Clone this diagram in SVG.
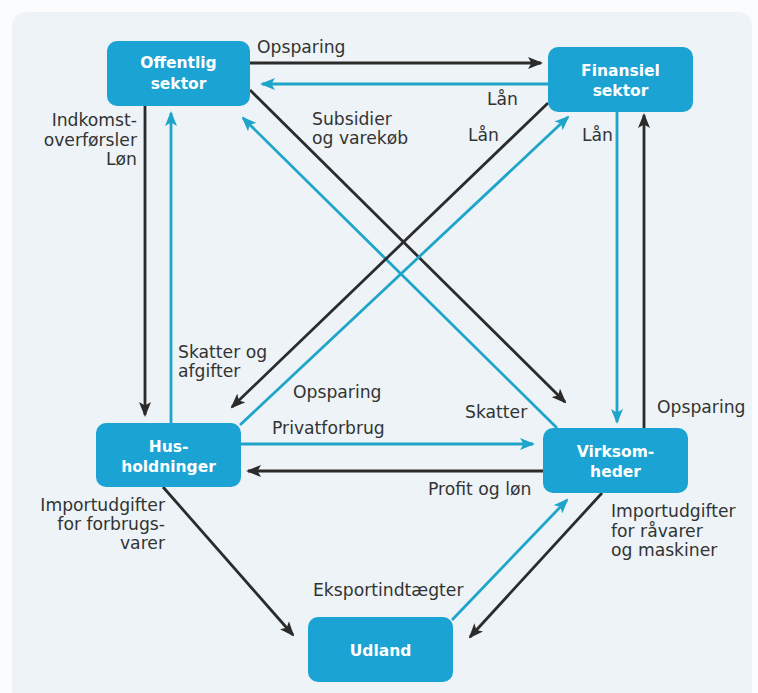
<svg xmlns="http://www.w3.org/2000/svg" width="758" height="693" viewBox="0 0 758 693">
  <style>
    .node rect { fill: #1ba3d4; }
    .node text { fill: #ffffff; font-family: "DejaVu Sans", "Liberation Sans", sans-serif; font-weight: bold; font-size: 15.5px; text-anchor: middle; }
    .lbl { fill: #333333; font-family: "DejaVu Sans", "Liberation Sans", sans-serif; font-size: 17.2px; }
    .end { text-anchor: end; }
    .dk { stroke: #2b2b2b; stroke-width: 2.8; fill: none; marker-end: url(#ad); }
    .cy { stroke: #1fa5c9; stroke-width: 2.8; fill: none; marker-end: url(#ac); }
  </style>
  <defs>
    <marker id="ad" markerUnits="userSpaceOnUse" markerWidth="15" markerHeight="12" refX="13" refY="6" orient="auto">
      <path d="M0,0 L15,6 L0,12 L3.5,6 z" fill="#2b2b2b"/>
    </marker>
    <marker id="ac" markerUnits="userSpaceOnUse" markerWidth="15" markerHeight="12" refX="13" refY="6" orient="auto">
      <path d="M0,0 L15,6 L0,12 L3.5,6 z" fill="#1fa5c9"/>
    </marker>
  </defs>
  <rect x="0" y="0" width="758" height="693" fill="#fbfcfd"/>
  <rect x="12" y="12" width="740" height="700" rx="14" fill="#edf3f7"/>

  <g id="connectors">
    <line class="dk" x1="250" y1="63" x2="541" y2="63"/>
    <line class="cy" x1="548" y1="84" x2="262" y2="84"/>
    <line class="dk" x1="145" y1="106" x2="145" y2="415"/>
    <line class="cy" x1="171" y1="423" x2="171" y2="113"/>
    <line class="dk" x1="250" y1="90" x2="565" y2="402"/>
    <line class="cy" x1="557" y1="428" x2="243" y2="118"/>
    <line class="dk" x1="548" y1="103" x2="232" y2="407"/>
    <line class="cy" x1="240" y1="425" x2="568" y2="117"/>
    <line class="cy" x1="617" y1="112" x2="617" y2="422"/>
    <line class="dk" x1="644" y1="428" x2="644" y2="115"/>
    <line class="cy" x1="241" y1="444" x2="533" y2="444"/>
    <line class="dk" x1="543" y1="471" x2="248" y2="471"/>
    <line class="dk" x1="163" y1="487" x2="293" y2="635"/>
    <line class="cy" x1="452" y1="620" x2="567" y2="500"/>
    <line class="dk" x1="602" y1="493" x2="470" y2="637"/>
  </g>

  <g id="labels">
    <text class="lbl" x="257" y="53">Opsparing</text>
    <text class="lbl" x="487" y="105">Lån</text>
    <text class="lbl" x="468" y="141">Lån</text>
    <text class="lbl" x="582" y="141">Lån</text>
    <text class="lbl" x="312" y="125">Subsidier</text>
    <text class="lbl" x="312" y="144">og varekøb</text>
    <text class="lbl end" x="137" y="126">Indkomst-</text>
    <text class="lbl end" x="137" y="146">overførsler</text>
    <text class="lbl end" x="137" y="165">Løn</text>
    <text class="lbl" x="178" y="358">Skatter og</text>
    <text class="lbl" x="178" y="377">afgifter</text>
    <text class="lbl" x="293" y="398">Opsparing</text>
    <text class="lbl" x="272" y="434">Privatforbrug</text>
    <text class="lbl" x="465" y="418">Skatter</text>
    <text class="lbl" x="657" y="413">Opsparing</text>
    <text class="lbl" x="428" y="495">Profit og løn</text>
    <text class="lbl end" x="165" y="511">Importudgifter</text>
    <text class="lbl end" x="165" y="530">for forbrugs-</text>
    <text class="lbl end" x="165" y="549">varer</text>
    <text class="lbl" x="313" y="596">Eksportindtægter</text>
    <text class="lbl" x="611" y="517">Importudgifter</text>
    <text class="lbl" x="611" y="537">for råvarer</text>
    <text class="lbl" x="611" y="556">og maskiner</text>
  </g>

  <g id="offentlig" class="node">
    <rect x="107" y="41" width="143" height="65" rx="10"/>
    <text x="178.5" y="68">Offentlig</text>
    <text x="178.5" y="89">sektor</text>
  </g>
  <g id="finansiel" class="node">
    <rect x="548" y="47" width="145" height="65" rx="10"/>
    <text x="620.5" y="76">Finansiel</text>
    <text x="620.5" y="96">sektor</text>
  </g>
  <g id="husholdninger" class="node">
    <rect x="96" y="423" width="145" height="64" rx="10"/>
    <text x="168.5" y="452">Hus-</text>
    <text x="168.5" y="472">holdninger</text>
  </g>
  <g id="virksomheder" class="node">
    <rect x="543" y="428" width="145" height="65" rx="10"/>
    <text x="615.5" y="457">Virksom-</text>
    <text x="615.5" y="477">heder</text>
  </g>
  <g id="udland" class="node">
    <rect x="308" y="617" width="145" height="65" rx="10"/>
    <text x="380.5" y="656">Udland</text>
  </g>
</svg>
